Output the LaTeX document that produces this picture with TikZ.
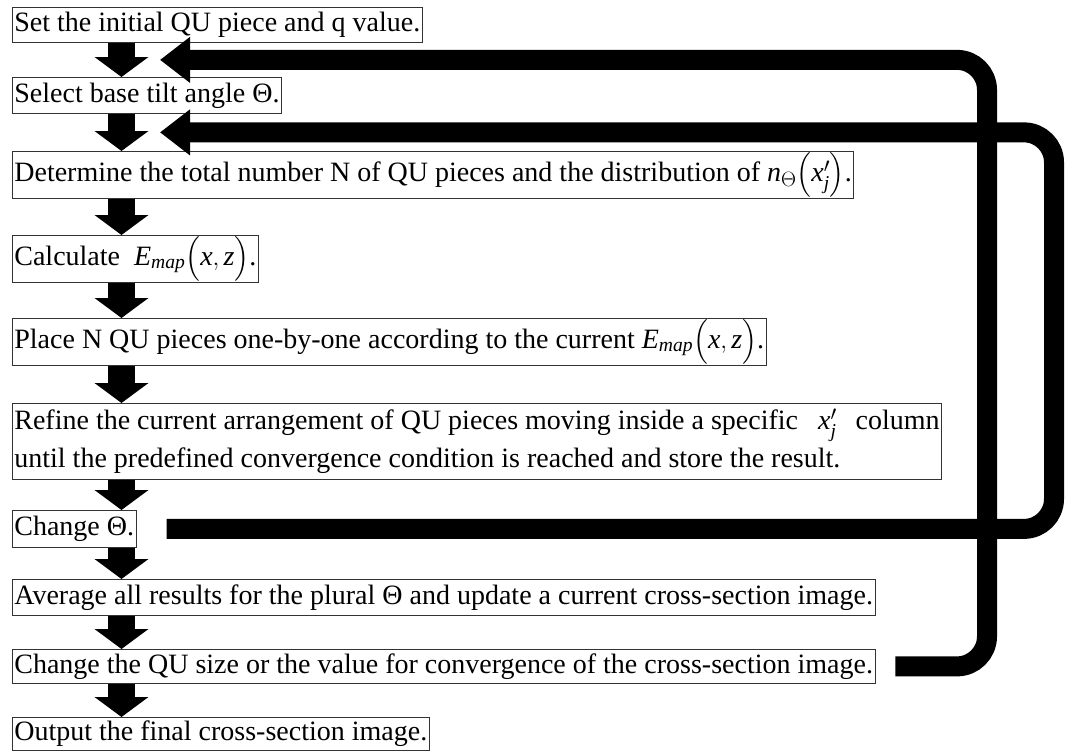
\documentclass[tikz,border=0pt]{standalone}
\usepackage{amsmath}
\usepackage{fontspec}
\setmainfont{Liberation Serif}
\usepackage{tikz}
\usetikzlibrary{arrows.meta, calc}

\begin{document}
\begin{tikzpicture}[
  x=1pt, y=-1pt,
  font=\fontsize{28}{38}\selectfont,
  box/.style={draw=black!80, line width=0.75pt, anchor=north west,
              inner xsep=2pt, inner ysep=1pt, align=left},
  dnarr/.style={line width=27pt, -{Triangle[width=53pt, length=20pt]}},
  fbarr/.style={line width=20pt, rounded corners=30pt,
                -{Triangle[width=44pt, length=30pt]}},
]
\useasboundingbox (0,0) rectangle (1073,750);

% ============ NODES ============

\node[box, minimum height=35pt] (init)   at (12,7)   {Set the initial QU piece and q value.};
\node[box, minimum height=36pt] (tilt)   at (12,77)  {Select base tilt angle Θ.};
\node[box, minimum height=47pt] (dist)   at (12,151)
  {Determine the total number N of QU pieces and the distribution of
   $\textit{n}_{\Theta}\Bigl(\textit{x}'_{\textit{j}}\Bigr)$.};
\node[box, minimum height=47pt] (emap)   at (12,235)
  {Calculate\hspace{14pt}$\textit{E}_{\textit{map}}\Bigl(\textit{x}, \textit{z}\Bigr)$.};
\node[box, minimum height=47pt] (place)  at (12,318)
  {Place N QU pieces one-by-one according to the current
   $\textit{E}_{\textit{map}}\Bigl(\textit{x}, \textit{z}\Bigr)$.};
\node[box, minimum height=76pt] (refine) at (12,403)
  {Refine the current arrangement of QU pieces moving inside a specific\hspace{20pt}%
   $\textit{x}'_{\textit{j}}$\hspace{19pt}column\\
   until the predefined convergence condition is reached and store the result.};
\node[box, minimum height=37pt] (chgth)  at (12,510) {Change Θ.};
\node[box, minimum height=36pt] (avg)    at (12,579)
  {Average all results for the plural Θ and update a current cross-section image.};
\node[box, minimum height=34pt] (chgsz)  at (12,649)
  {Change the QU size or the value for convergence of the cross-section image.};
\node[box, minimum height=33pt] (final)  at (12,717) {Output the final cross-section image.};

% helper columns
\coordinate (ax) at (121.5,0);
\coordinate (tx) at (160,0);
\coordinate (r1) at (987,0);
\coordinate (r2) at (1054,0);
\coordinate (m1) at ($(init.south)!.5!(tilt.north)$);
\coordinate (m2) at ($(tilt.south)!.5!(dist.north)$);

% ============ ARROWS ============

% main flow
\foreach \a/\b in {init/tilt, tilt/dist, dist/emap, emap/place, place/refine,
                   refine/chgth, chgth/avg, avg/chgsz, chgsz/final}
  \draw[dnarr] (\a.south -| ax) -- (\b.north -| ax);

% feedback loops
\draw[fbarr] ([xshift=20pt]chgsz.east) -| (m1 -| r1) -- (m1 -| tx);
\draw[fbarr] ([xshift=30pt]chgth.east) -| (m2 -| r2) -- (m2 -| tx);

\end{tikzpicture}
\end{document}
